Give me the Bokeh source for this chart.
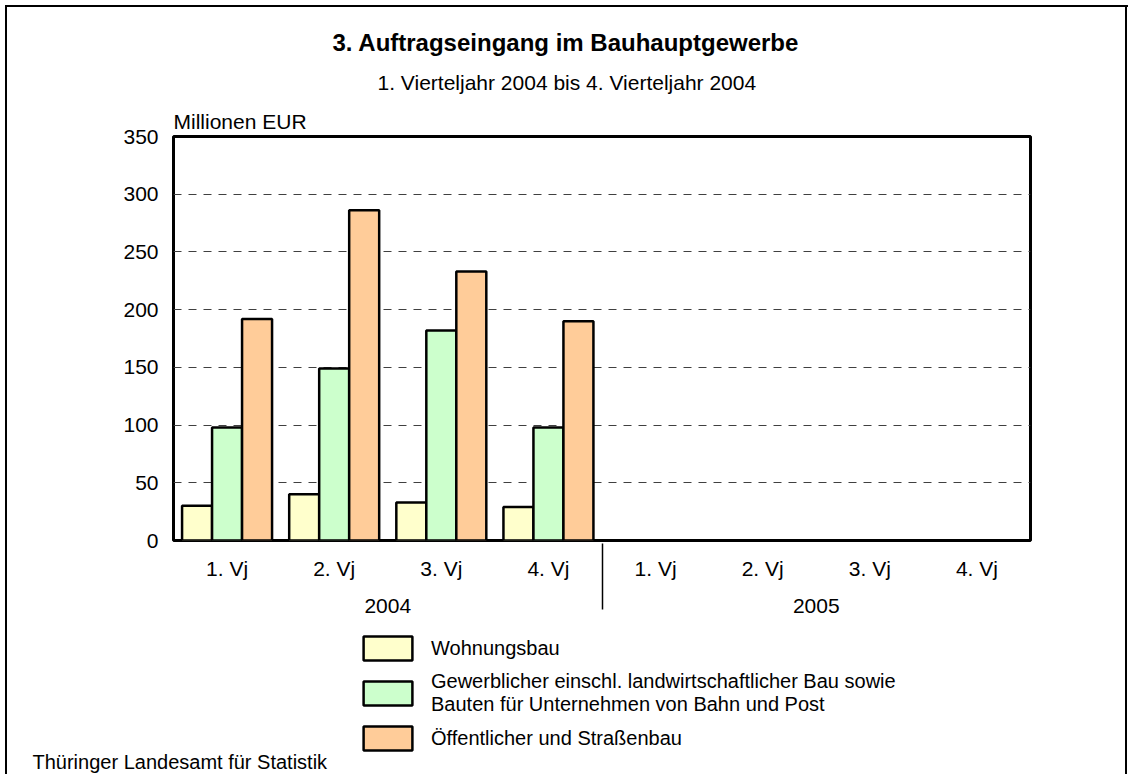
from bokeh.plotting import figure
from bokeh.layouts import column
from bokeh.models import (FactorRange, Range1d, Legend, LegendItem, Title, Label,
                          ColumnDataSource, FixedTicker)
from bokeh.transform import dodge
from bokeh.embed import file_html
from bokeh.resources import INLINE

# ---------------- data ----------------
years = ["2004", "2005"]
quarters = ["1. Vj", "2. Vj", "3. Vj", "4. Vj"]
wohnungsbau = [30, 40, 33, 29]          # 2004, Millionen EUR
gewerblich = [98, 149, 182, 98]
oeffentlich = [192, 286, 233, 190]
series_labels = [
    "Wohnungsbau",
    "Gewerblicher einschl. landwirtschaftlicher Bau sowie\nBauten für Unternehmen von Bahn und Post",
    "Öffentlicher und Straßenbau",
]
series_colors = ["#FFFFCC", "#CCFFCC", "#FFCC99"]
y_ticks = [0, 50, 100, 150, 200, 250, 300, 350]
title_text = "3. Auftragseingang im Bauhauptgewerbe"
subtitle_text = "1. Vierteljahr 2004 bis 4. Vierteljahr 2004"
unit_text = "Millionen EUR"
source_text = "Thüringer Landesamt für Statistik"

FONT = "Liberation Sans"

factors = [(y, q) for y in years for q in quarters]
src = ColumnDataSource(dict(
    x=[("2004", q) for q in quarters],
    w=wohnungsbau, g=gewerblich, o=oeffentlich,
))

x_range = FactorRange(factors=factors, range_padding=0, group_padding=0,
                      factor_padding=0, subgroup_padding=0)

# ---------------- main chart ----------------
p = figure(width=1128, height=630, x_range=x_range, y_range=Range1d(0, 350),
           title=None, output_backend="svg", toolbar_location=None,
           min_border_left=173, min_border_right=98,
           min_border_top=136, min_border_bottom=90,
           background_fill_color="white", border_fill_color=None,
           frame_align=False)

bw = 0.28
renderers = []
for col, off, color in zip(["w", "g", "o"], [-bw, 0, bw], series_colors):
    r = p.vbar(x=dodge("x", off, range=p.x_range), top=col, width=bw, bottom=0,
               source=src, fill_color=color, line_color="black", line_width=2.5)
    renderers.append(r)

p.outline_line_color = "black"
p.outline_line_width = 3
p.xgrid.grid_line_color = None
p.ygrid.grid_line_color = "#404040"
p.ygrid.grid_line_dash = "8 7"
p.ygrid.grid_line_width = 1

p.yaxis.ticker = FixedTicker(ticks=y_ticks)
p.yaxis.axis_line_color = None
p.yaxis.major_tick_line_color = None
p.yaxis.minor_tick_line_color = None
p.yaxis.major_tick_out = 0
p.yaxis.major_tick_in = 0
p.yaxis.major_label_standoff = 15
p.yaxis.major_label_text_font = FONT
p.yaxis.major_label_text_font_size = "21px"
p.yaxis.major_label_text_color = "black"

p.xaxis.axis_line_color = None
p.xaxis.major_tick_line_color = None
p.xaxis.major_tick_out = 0
p.xaxis.major_tick_in = 0
p.xaxis.major_label_standoff = 16
p.xaxis.major_label_text_font = FONT
p.xaxis.major_label_text_font_size = "21px"
p.xaxis.major_label_text_color = "black"
p.xaxis.group_text_font = FONT
p.xaxis.group_text_font_size = "21px"
p.xaxis.group_text_font_style = "normal"
p.xaxis.group_text_color = "black"
p.xaxis.separator_line_color = "black"
p.xaxis.separator_line_width = 1.5

# titles above the frame (first added = closest to the frame)
p.add_layout(Title(text=unit_text, align="left", offset=0, standoff=6.5,
                   text_font=FONT, text_font_size="21px", text_font_style="normal",
                   text_color="black"), "above")
p.add_layout(Title(text=subtitle_text, align="left", offset=204, standoff=21.5,
                   text_font=FONT, text_font_size="21px", text_font_style="normal",
                   text_color="black"), "above")
p.add_layout(Title(text=title_text, align="left", offset=159, standoff=3,
                   text_font=FONT, text_font_size="24px", text_font_style="bold",
                   text_color="black"), "above")

# ---------------- legend + source strip ----------------
p2 = figure(width=1128, height=144, x_range=Range1d(0, 1), y_range=Range1d(0, 1),
            x_axis_type=None, y_axis_type=None, title=None,
            output_backend="svg", toolbar_location=None, min_border=0,
            background_fill_color=None, border_fill_color=None,
            outline_line_color=None, frame_align=False)
p2.xgrid.visible = False
p2.ygrid.visible = False

# legend proxies (one undrawn entry each, styled like the bars)
legend_renderers = []
for color in series_colors:
    legend_renderers.append(p2.vbar(x=[0.5], top=[float("nan")], width=bw,
                                    fill_color=color, line_color="black", line_width=2.5))

legend = Legend(
    items=[LegendItem(label=lab, renderers=[r]) for lab, r in zip(series_labels, legend_renderers)],
    location=(357, 21), orientation="vertical",
    glyph_width=61, glyph_height=30, label_standoff=13, spacing=7,
    padding=0, margin=0, border_line_color=None, background_fill_alpha=0,
    label_text_font=FONT, label_text_font_size="20px", label_text_color="black",
)
p2.add_layout(legend)

p2.add_layout(Label(x=32, y=13, x_units="screen", y_units="screen", text=source_text,
                    text_align="left", text_baseline="alphabetic",
                    text_font=FONT, text_font_size="20px", text_color="black"))

frame_css = {
    "background-color": "white",
    "background-image": "linear-gradient(#000,#000), linear-gradient(#000,#000), linear-gradient(#000,#000)",
    "background-size": "2px 100%, 100% 2px, 2px 100%",
    "background-position": "5px 5px, 5px 5px, 1125px 5px",
    "background-repeat": "no-repeat",
}
layout = column(p, p2, spacing=0, styles=frame_css)

open("out.html", "w").write(file_html(layout, INLINE))
